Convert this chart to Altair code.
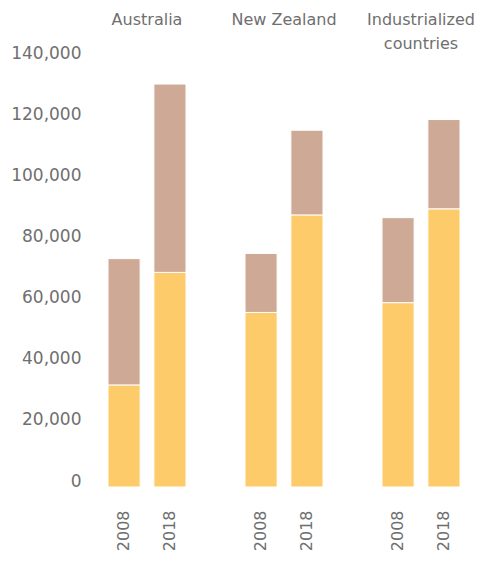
import altair as alt
import pandas as pd

countries = ["Australia", "New Zealand", "Industrialized countries"]
years = ["2008", "2018"]
series = ["Net financial assets", "Liabilities"]
# bottom (yellow) segment values
lower = [33400, 70200, 57100, 89000, 60300, 91000]
# top (brown) segment values
upper = [41300, 61600, 19300, 27700, 27800, 29200]
colors = ["#FDCB69", "#CEA996"]
y_ticks = [0, 20000, 40000, 60000, 80000, 100000, 120000, 140000]

rows = []
i = 0
for c in countries:
    for yr in years:
        rows.append({"country": c, "year": yr, "series": series[0], "order": 0, "value": lower[i]})
        rows.append({"country": c, "year": yr, "series": series[1], "order": 1, "value": upper[i]})
        i += 1
df = pd.DataFrame(rows)

FONT = "DejaVu Sans"
GREY = "#6f6f6f"
FS = 17

chart = alt.Chart(df).mark_bar(stroke="white", strokeWidth=1).encode(
    x=alt.X("year:N", sort=years, title=None,
            scale=alt.Scale(paddingInner=0.3, paddingOuter=0),
            axis=alt.Axis(labelAngle=-90, labelAlign="right", labelBaseline="middle",
                          ticks=False, domain=False, labelPadding=22,
                          labelFontSize=16, labelColor=GREY, labelFont=FONT)),
    y=alt.Y("value:Q", stack="zero", title=None,
            scale=alt.Scale(domain=[0, 140000], nice=False),
            axis=alt.Axis(values=y_ticks, format=",d", grid=False, ticks=False, domain=False,
                          labelPadding=26, labelFontSize=FS, labelColor=GREY, labelFont=FONT,
                          labelOffset=-6)),
    color=alt.Color("series:N", sort=series,
                    scale=alt.Scale(domain=series, range=colors), legend=None),
    order=alt.Order("order:Q", sort="ascending"),
    column=alt.Column("country:N", sort=countries, title=None,
                      header=alt.Header(labelFontSize=16, labelColor=GREY, labelFont=FONT,
                                        labelPadding=7, labelLineHeight=24,
                                        labelExpr="datum.value == 'Industrialized countries' ? ['Industrialized', 'countries'] : [datum.value, '']")),
).properties(
    width=78, height=428,
    padding={"top": 4, "left": 2, "right": 0, "bottom": 0},
).configure_view(stroke=None).configure_facet(spacing=57)

chart.save("out.html", embed_options={"renderer": "svg", "actions": False})
